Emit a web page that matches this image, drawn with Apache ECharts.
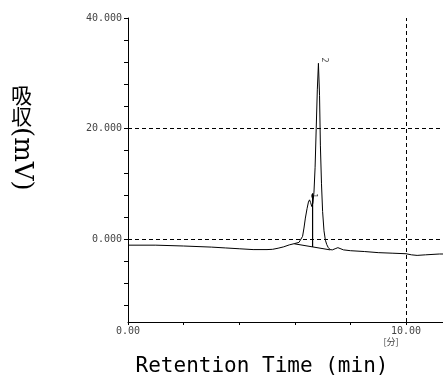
<!DOCTYPE html>
<html>
<head>
<meta charset="utf-8">
<script src="https://cdn.jsdelivr.net/npm/echarts@6/dist/echarts.min.js"></script>
<style>
  html, body { margin: 0; padding: 0; background: #fff; }
  #box { width: 443px; height: 381px; }
</style>
</head>
<body>
<div id="box"></div>
<script>
// chromatogram, time (min) / signal (mV)
var times = [0, 1.0, 2.0, 3.0, 3.5, 4.0, 4.5, 5.0, 5.2, 5.4, 5.6, 5.8, 6.0, 6.15, 6.22, 6.28, 6.33, 6.38, 6.44,
    6.49, 6.53, 6.57, 6.61, 6.65, 6.69, 6.73, 6.77, 6.81, 6.85, 6.89, 6.92, 6.96, 7.0, 7.05, 7.1, 7.15, 7.2,
    7.27, 7.35, 7.45, 7.55, 7.62, 7.75, 8.0, 8.5, 9.0, 9.5, 10.0, 10.2, 10.4, 10.7, 11.2, 11.6, 12.0];
var signal = [-1.1, -1.1, -1.25, -1.45, -1.6, -1.75, -1.9, -1.9, -1.85, -1.65, -1.4, -1.05, -0.8, -0.6, -0.3, 0.5, 2.0, 3.8, 5.5,
    6.7, 7.1, 6.6, 5.9, 6.5, 8.5, 13, 20, 27, 31.8, 26, 17, 10, 5, 1.5, -0.2, -1.0, -1.5,
    -1.9, -1.95, -1.75, -1.55, -1.65, -1.95, -2.1, -2.25, -2.45, -2.55, -2.65, -2.85, -2.95, -2.85, -2.7, -2.7, -2.7];

// integration baseline and peak split
var baseTimes = [5.98, 7.27];
var baseValues = [-0.85, -1.95];
var dropTimes = [6.64, 6.64];
var dropValues = [-1.41, 8.3];

// peak numbers
var peakNames = ['1', '2'];
var peakTimes = [6.65, 7.04];
var peakValues = [7.85, 32.4];

var yLabelValues = [0, 20, 40];
var yTickValues = [-12, -8, -4, 0, 4, 8, 12, 16, 20, 24, 28, 32, 36, 40];
var xLabelValues = [0, 10];

function zip(a, b) {
    return a.map(function (v, i) { return [v, b[i]]; });
}

var myChart = echarts.init(document.getElementById('box'));

var option = {
    backgroundColor: '#fff',
    animation: false,
    grid: { left: 128, top: 18, width: 333.6, height: 304, outerBoundsMode: 'none', containLabel: false },
    xAxis: {
        type: 'value',
        min: 0,
        max: 12,
        interval: 2,
        axisLine: { onZero: false, lineStyle: { color: '#000', width: 1 } },
        axisTick: { length: 3, lineStyle: { color: '#000' } },
        axisLabel: {
            customValues: xLabelValues,
            margin: 4,
            fontFamily: 'DejaVu Sans Mono',
            fontSize: 10,
            color: '#444',
            formatter: function (v) { return v.toFixed(2); }
        },
        splitLine: { show: false }
    },
    yAxis: {
        type: 'value',
        min: -15,
        max: 40,
        axisLine: { show: true, onZero: false, lineStyle: { color: '#000', width: 1 } },
        axisTick: { show: true, customValues: yTickValues, length: 4, lineStyle: { color: '#000' } },
        axisLabel: {
            customValues: yLabelValues,
            margin: 6,
            fontFamily: 'DejaVu Sans Mono',
            fontSize: 10,
            color: '#444',
            formatter: function (v) { return v.toFixed(3); }
        },
        splitLine: { show: false }
    },
    graphic: [
        {
            type: 'text', left: 11, top: 85,
            style: { text: '吸\n収', font: '21px "Noto Sans CJK JP"', fill: '#000', lineHeight: 21 }
        },
        {
            type: 'text', x: 22, y: 127, rotation: -Math.PI / 2,
            style: { text: '(mV)', font: '26px "DejaVu Serif"', fill: '#000', verticalAlign: 'middle' }
        },
        {
            type: 'text', x: 391, y: 342,
            style: { text: '[分]', font: '9px "Noto Sans CJK JP"', fill: '#444', align: 'center', verticalAlign: 'middle' }
        },
        {
            type: 'text', x: 262, y: 367,
            style: { text: 'Retention Time (min)', font: '21px "DejaVu Sans Mono"', fill: '#000', align: 'center', verticalAlign: 'middle' }
        }
    ],
    series: [
        {
            name: 'signal',
            type: 'line',
            data: zip(times, signal),
            symbol: 'none',
            lineStyle: { color: '#000', width: 1 },
            markLine: {
                silent: true,
                symbol: 'none',
                label: { show: false },
                lineStyle: { color: '#000', type: [4, 3], width: 1 },
                data: [{ yAxis: 0 }, { yAxis: 20 }, { xAxis: 10 }]
            },
            z: 3
        },
        {
            name: 'baseline',
            type: 'line',
            data: zip(baseTimes, baseValues),
            symbol: 'none',
            lineStyle: { color: '#000', width: 1 }
        },
        {
            name: 'split',
            type: 'line',
            data: zip(dropTimes, dropValues),
            symbol: 'none',
            lineStyle: { color: '#000', width: 1.2 }
        },
        {
            name: 'peaks',
            type: 'scatter',
            data: zip(peakTimes, peakValues),
            symbolSize: 0,
            label: {
                show: true,
                position: 'inside',
                rotate: -90,
                fontFamily: 'DejaVu Sans',
                fontSize: 8,
                color: '#222',
                formatter: function (p) { return peakNames[p.dataIndex]; }
            }
        }
    ]
};

myChart.setOption(option);
</script>
</body>
</html>
